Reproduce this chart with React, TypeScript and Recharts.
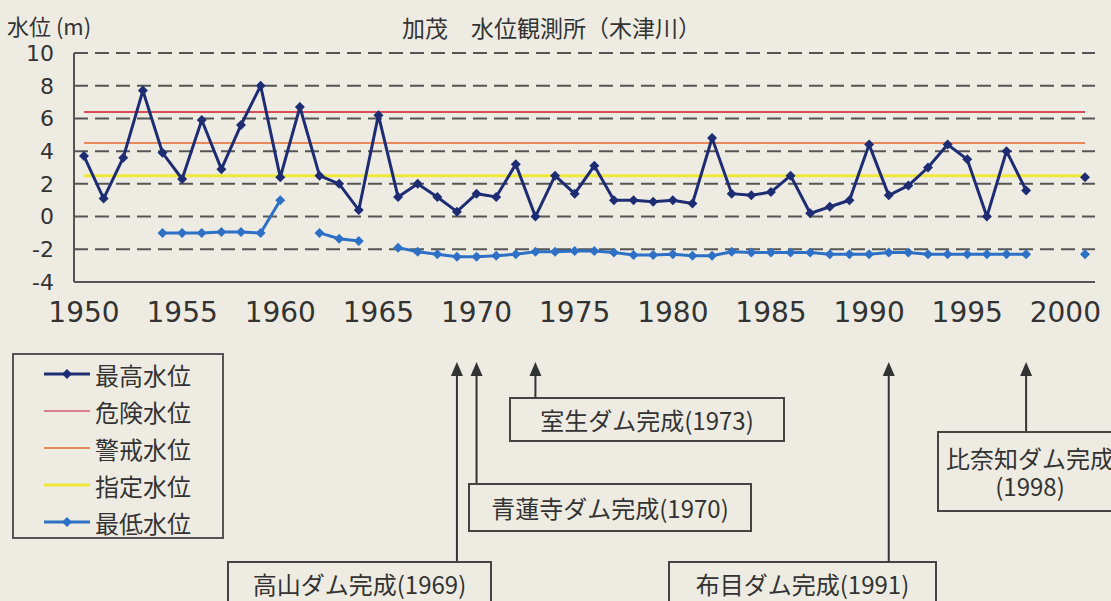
import React from 'react';
import { LineChart, Line, XAxis, YAxis, CartesianGrid, ReferenceLine } from 'recharts';

// 加茂水位観測所（木津川） annual max / min water level
const YEARS = [
  '1950', '1951', '1952', '1953', '1954', '1955', '1956', '1957', '1958', '1959',
  '1960', '1961', '1962', '1963', '1964', '1965', '1966', '1967', '1968', '1969',
  '1970', '1971', '1972', '1973', '1974', '1975', '1976', '1977', '1978', '1979',
  '1980', '1981', '1982', '1983', '1984', '1985', '1986', '1987', '1988', '1989',
  '1990', '1991', '1992', '1993', '1994', '1995', '1996', '1997', '1998', '1999',
  '2000', '2001'
];

const MAX_LEVEL = [
  3.7, 1.1, 3.6, 7.7, 3.9, 2.3, 5.9, 2.9, 5.6, 8.0,
  2.4, 6.7, 2.5, 2.0, 0.4, 6.2, 1.2, 2.0, 1.2, 0.3,
  1.4, 1.2, 3.2, 0.0, 2.5, 1.4, 3.1, 1.0, 1.0, 0.9,
  1.0, 0.8, 4.8, 1.4, 1.3, 1.5, 2.5, 0.2, 0.6, 1.0,
  4.4, 1.3, 1.9, 3.0, 4.4, 3.5, 0.0, 4.0, 1.6, null,
  null, 2.4
];

const MIN_LEVEL = [
  null, null, null, null, -1.0, -1.0, -1.0, -0.95, -0.95, -1.0,
  1.0, null, -1.0, -1.35, -1.5, null, -1.9, -2.15, -2.3, -2.45,
  -2.45, -2.4, -2.3, -2.15, -2.15, -2.1, -2.1, -2.2, -2.35, -2.35,
  -2.3, -2.4, -2.4, -2.15, -2.2, -2.2, -2.2, -2.2, -2.3, -2.3,
  -2.3, -2.2, -2.2, -2.3, -2.3, -2.3, -2.3, -2.3, -2.3, null,
  null, -2.3
];

const DANGER_LEVEL = 6.4;
const WARNING_LEVEL = 4.5;
const DESIGNATED_LEVEL = 2.5;

const Y_TICKS = [-4, -2, 0, 2, 4, 6, 8, 10];

const DAMS = [
  { year: '1969', name: '高山ダム完成(1969)' },
  { year: '1970', name: '青蓮寺ダム完成(1970)' },
  { year: '1973', name: '室生ダム完成(1973)' },
  { year: '1991', name: '布目ダム完成(1991)' },
  { year: '1998', name: '比奈知ダム完成\n(1998)' }
];

const LEGEND_NAMES = ['最高水位', '危険水位', '警戒水位', '指定水位', '最低水位'];

const C_MAX = '#1e2c74';
const C_MIN = '#2d70c6';
const C_DANGER = '#d84c55';
const C_WARNING = '#e8895c';
const C_DESIGNATED = '#efe838';
const LEGEND_COLORS = [C_MAX, '#d9808a', C_WARNING, C_DESIGNATED, C_MIN];

const BG = '#eeece2';
const INK = '#333';
const JP = '"Noto Sans CJK JP", "Noto Sans", sans-serif';

const rows = YEARS.map((year, i) => ({ year, max: MAX_LEVEL[i], min: MIN_LEVEL[i] }));

// box top of each annotation, measured below the plot bottom
const ARROW_END: Record<string, number> = { '1969': 279, '1970': 201, '1973': 115, '1991': 279, '1998': 149 };
const BOXES: Record<string, React.CSSProperties> = {
  '1969': { left: 227, top: 561, width: 265, height: 52 },
  '1970': { left: 468, top: 483, width: 284, height: 49 },
  '1973': { left: 509, top: 397, width: 276, height: 45 },
  '1991': { left: 668, top: 561, width: 269, height: 52 },
  '1998': { left: 937, top: 431, width: 186, height: 81 }
};

const diamond = (color: string) => (props: any) => {
  const { cx, cy, index } = props;
  if (!Number.isFinite(cx) || !Number.isFinite(cy)) return <g key={`d-${index}`} />;
  const r = 5;
  return (
    <polygon
      key={`d-${index}`}
      points={`${cx},${cy - r} ${cx + r},${cy} ${cx},${cy + r} ${cx - r},${cy}`}
      fill={color}
    />
  );
};

const arrow = (year: string) => (p: any) => {
  const x = p.x1;
  const base = Math.max(p.y1, p.y2);
  const tip = base + 80;
  const end = base + ARROW_END[year];
  return (
    <g>
      <line x1={x} y1={tip + 10} x2={x} y2={end} stroke={INK} strokeWidth={2} />
      <polygon points={`${x},${tip} ${x - 6},${tip + 14} ${x + 6},${tip + 14}`} fill={INK} />
    </g>
  );
};

const LegendBox = () => (
  <svg
    width={212}
    height={186}
    style={{ position: 'absolute', left: 12, top: 353, border: '2px solid #555', boxSizing: 'border-box' }}
  >
    {LEGEND_NAMES.map((name, i) => {
      const y = 19 + i * 37;
      const marker = i === 0 || i === 4;
      return (
        <g key={name}>
          <line x1={30} y1={y} x2={76} y2={y} stroke={LEGEND_COLORS[i]} strokeWidth={marker || i === 3 ? 3 : 2} />
          {marker && <polygon points={`53,${y - 5} 58,${y} 53,${y + 5} 48,${y}`} fill={LEGEND_COLORS[i]} />}
          <text x={81} y={y} dominantBaseline="central" fontSize={24} fill={INK} style={{ fontFamily: JP }}>
            {name}
          </text>
        </g>
      );
    })}
  </svg>
);

const App: React.FC = () => {
  return (
    <div
      style={{
        position: 'absolute',
        left: 0,
        top: 0,
        width: 1111,
        height: 601,
        background: BG,
        overflow: 'hidden',
        fontFamily: JP
      }}
    >
      <div style={{ position: 'absolute', left: 7, top: 10, fontSize: 22, color: INK, lineHeight: '30px' }}>水位 (m)</div>
      <div style={{ position: 'absolute', left: 402, top: 12, fontSize: 23, color: INK, lineHeight: '30px' }}>
        加茂　水位観測所（木津川）
      </div>

      <LineChart width={1111} height={601} data={rows} margin={{ top: 53, right: 16, bottom: 279, left: 8 }}>
        <CartesianGrid vertical={false} stroke="#555" strokeWidth={2} strokeDasharray="14 7" />
        <XAxis
          dataKey="year"
          interval={4}
          padding={{ left: 10, right: 10 }}
          height={40}
          tickSize={0}
          tickMargin={20}
          axisLine={{ stroke: '#555', strokeWidth: 2 }}
          tick={{ fill: INK, fontSize: 28, fontFamily: '"DejaVu Sans"' }}
        />
        <XAxis xAxisId="top" dataKey="year" orientation="top" height={0} tick={false} tickLine={false}
          axisLine={{ stroke: '#555', strokeWidth: 2 }} />
        <YAxis
          domain={[-4, 10]}
          ticks={Y_TICKS}
          width={66}
          tickSize={0}
          tickMargin={20}
          axisLine={{ stroke: '#555', strokeWidth: 2 }}
          tick={{ fill: INK, fontSize: 22, fontFamily: '"DejaVu Sans"' }}
        />
        <YAxis yAxisId="right" orientation="right" domain={[-4, 10]} width={0} tick={false} tickLine={false}
          axisLine={{ stroke: '#555', strokeWidth: 2 }} />

        <ReferenceLine zIndex={50} ifOverflow="visible" segment={[{ x: '1950', y: DANGER_LEVEL }, { x: '2001', y: DANGER_LEVEL }]} stroke={C_DANGER} strokeWidth={2} />
        <ReferenceLine zIndex={50} ifOverflow="visible" segment={[{ x: '1950', y: WARNING_LEVEL }, { x: '2001', y: WARNING_LEVEL }]} stroke={C_WARNING} strokeWidth={2} />
        <ReferenceLine zIndex={50} ifOverflow="visible" segment={[{ x: '1950', y: DESIGNATED_LEVEL }, { x: '2001', y: DESIGNATED_LEVEL }]} stroke={C_DESIGNATED} strokeWidth={3} />

        <Line dataKey="max" stroke={C_MAX} strokeWidth={3} dot={diamond(C_MAX)} activeDot={false} isAnimationActive={false} />
        <Line dataKey="min" stroke={C_MIN} strokeWidth={3} dot={diamond(C_MIN)} activeDot={false} isAnimationActive={false} />

        {DAMS.map(d => (
          <ReferenceLine key={d.year} x={d.year} ifOverflow="visible" shape={arrow(d.year)} />
        ))}
      </LineChart>

      <LegendBox />

      {DAMS.map(d => (
        <div
          key={d.year}
          style={{
            position: 'absolute',
            ...BOXES[d.year],
            border: '2px solid #444',
            boxSizing: 'border-box',
            display: 'flex',
            alignItems: 'center',
            justifyContent: 'center',
            textAlign: 'center',
            whiteSpace: 'pre',
            fontSize: 24,
            lineHeight: '28px',
            color: INK
          }}
        >
          <span style={{ position: 'relative', top: d.year === '1969' || d.year === '1991' ? -3 : 0 }}>{d.name}</span>
        </div>
      ))}
    </div>
  );
};

export default App;
